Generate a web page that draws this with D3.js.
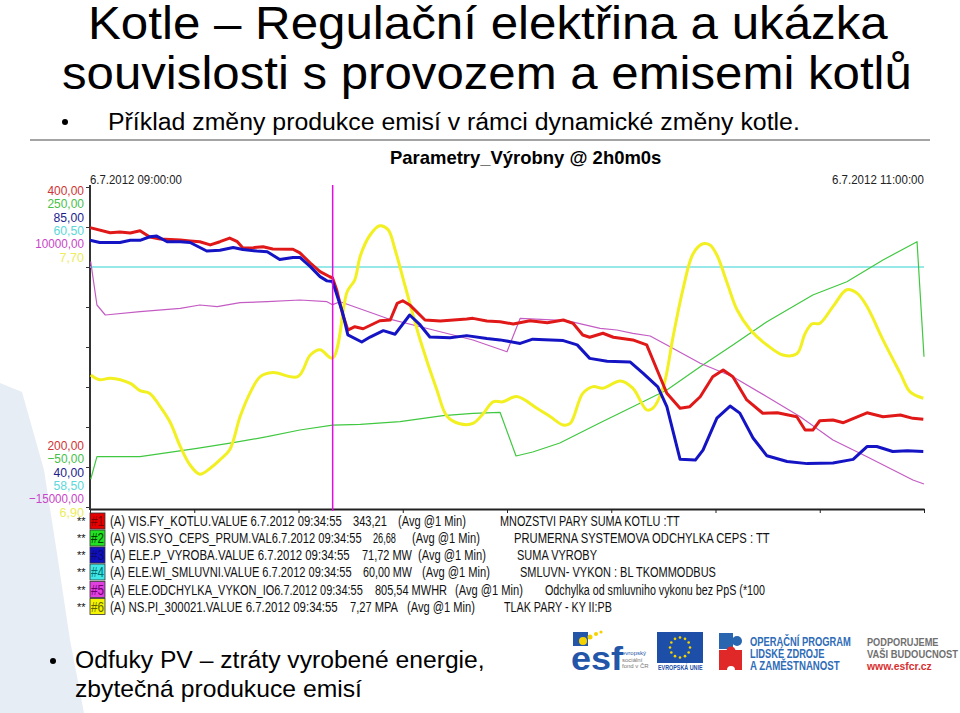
<!DOCTYPE html>
<html>
<head>
<meta charset="utf-8">
<script src="https://cdn.jsdelivr.net/npm/d3@7"></script>
<style>
body { margin: 0; background: #fff; }
svg { display: block; font-family: "Liberation Sans", Arial, sans-serif; }
</style>
</head>
<body>
<svg id="slide" width="960" height="713"></svg>
<script>
// trend from the plant historian, 6.7.2012 09:00 - 11:00
// each pen is [minutes after 09:00, value]

let redPts = [[0,374.6],[2.9,371.4],[4.3,371.9],[5.8,371.3],[7.2,372.7],[8.6,368.8],[10.1,367.5],[13.0,366.9],[14.4,366.3],[15.8,365.8],[17.3,363.8],[18.7,365.8],[20.1,368.1],[21.2,365.8],[22.0,361.9],[23.5,362.1],[24.9,362.7],[26.3,361.3],[29.2,361.1],[30.2,358.8],[31.7,352.5],[33.1,347.1],[34.5,343.9],[34.9,343.2],[35.5,335.6],[36.3,321.3],[37.1,310.6],[38.1,312.7],[39.3,311.4],[41.7,316.4],[43.2,316.9],[44.2,327.3],[45.0,328.9],[46.0,326.3],[48.2,316.9],[50.4,316.3],[54.2,317.5],[55.1,317.9],[57.1,316.3],[59.0,315.8],[60.9,314.4],[63.3,316.4],[65.8,315.2],[68.1,316.9],[69.5,314.8],[70.9,307.5],[71.9,306.1],[73.8,308.6],[75.3,306.1],[78.1,304.4],[80.1,301.3],[81.6,285.6],[83.0,271.1],[84.9,261.7],[86.3,262.7],[87.8,268.9],[89.6,281.4],[91.1,285.6],[92.5,281.4],[94.5,266.9],[96.8,258.6],[98.9,258.9],[101.7,256.4],[102.9,248.1],[104.0,248.1],[105.0,253.9],[106.9,254.4],[108.4,252.7],[111.8,258.9],[114.1,256.4],[116.6,257.5],[118.4,255.4],[119.9,254.8]];

let greenPts = [[0.1,-24.0],[1.0,-2.8],[7.2,-2.8],[15.4,5.0],[20.6,10.3],[25.5,15.9],[30.2,22.2],[34.9,26.7],[38.9,27.5],[44.6,30.0],[50.8,35.6],[55.1,37.8],[59.0,38.8],[61.3,-2.2],[63.7,1.6],[67.6,10.0],[73.4,29.0],[78.1,44.0],[83.0,59.7],[87.8,81.5],[92.5,101.9],[97.4,123.7],[104.0,148.8],[108.9,161.2],[114.1,181.6],[119.0,198.7],[120.0,90.9]];

let bluePts = [[0,77.5],[1.4,77.2],[4.3,77.2],[5.8,77.5],[7.2,77.5],[8.6,78.0],[9.6,78.1],[11.1,77.3],[13.0,77.3],[14.4,77.2],[16.8,76.0],[18.7,76.1],[20.6,76.5],[22.0,76.2],[24.0,76.0],[25.5,75.9],[27.3,74.8],[29.2,75.1],[30.2,75.1],[31.7,73.8],[33.1,72.4],[34.1,71.8],[34.9,71.7],[36.3,67.5],[37.1,64.2],[39.1,63.2],[40.3,63.9],[42.2,64.8],[43.9,64.3],[46.0,67.0],[47.5,65.6],[48.9,63.9],[51.8,63.8],[54.2,64.1],[57.1,63.7],[59.0,63.5],[61.9,63.0],[63.7,63.6],[68.1,63.4],[70.1,62.8],[71.9,60.9],[74.4,60.5],[77.7,60.4],[79.6,58.8],[81.7,56.9],[83.0,54.1],[84.9,46.7],[87.1,46.6],[88.2,48.0],[90.2,52.5],[92.1,54.2],[93.5,53.2],[95.4,49.7],[97.4,47.2],[100.3,46.4],[103.2,46.1],[106.9,46.2],[109.8,46.7],[111.8,48.5],[113.2,48.5],[115.5,47.8],[117.6,47.9],[119.9,47.8]];

let cyanPts = [[0,60.0],[120,60.0]];

let magentaPts = [[0.1,4164],[1.0,781],[2.2,0],[7.2,258],[13.0,523],[15.8,781],[18.3,648],[21.6,961],[25.5,1039],[30.2,1172],[34.1,1039],[34.9,806],[36.0,1039],[42.7,-258],[49.4,-1172],[55.1,-1953],[60.0,-2867],[61.9,-258],[68.6,-445],[73.4,-1039],[75.8,-1172],[78.1,-1430],[80.6,-1641],[83.0,-2344],[87.8,-3773],[92.5,-4820],[97.4,-6383],[102.2,-7945],[106.9,-9766],[111.8,-11070],[118.4,-12891],[120.0,-13203]];

let yellowPts = [[0.1,7.230],[1.4,7.218],[2.9,7.222],[5.8,7.209],[7.2,7.191],[8.6,7.184],[10.1,7.151],[11.5,7.113],[13.0,7.051],[14.4,7.005],[15.8,6.982],[17.3,6.997],[18.7,7.018],[20.1,7.043],[21.6,7.126],[23.0,7.184],[24.5,7.226],[26.3,7.236],[29.9,7.226],[31.7,7.280],[33.1,7.293],[34.9,7.272],[37.0,7.438],[38.1,7.468],[38.9,7.528],[40.3,7.580],[41.7,7.603],[42.9,7.593],[43.9,7.543],[45.3,7.455],[47.5,7.318],[49.9,7.193],[51.4,7.126],[53.2,7.108],[55.1,7.109],[56.6,7.134],[58.0,7.163],[59.4,7.163],[61.4,7.176],[64.3,7.147],[66.2,7.126],[68.1,7.105],[69.1,7.109],[70.9,7.184],[72.4,7.201],[73.8,7.197],[76.3,7.215],[78.1,7.197],[80.1,7.143],[81.0,7.147],[82.5,7.201],[83.9,7.326],[85.3,7.443],[86.8,7.534],[88.2,7.558],[89.2,7.555],[90.2,7.530],[91.7,7.459],[93.1,7.393],[95.0,7.343],[97.4,7.305],[99.7,7.280],[101.7,7.283],[102.9,7.334],[103.9,7.358],[105.0,7.359],[106.9,7.401],[108.9,7.443],[110.4,7.434],[111.8,7.401],[114.1,7.318],[116.6,7.234],[118.0,7.188],[119.9,7.172]];

// pen scale limits (top / bottom labels on the left)
let penMax = [400, 250, 85, 60.5, 10000, 7.7];
let penMin = [200, -50, 40, 58.5, -15000, 6.9];

// legend rows
let penTags = ["(A) VIS.FY_KOTLU.VALUE  6.7.2012 09:34:55", "(A) VIS.SYO_CEPS_PRUM.VAL6.7.2012 09:34:55", "(A) ELE.P_VYROBA.VALUE  6.7.2012 09:34:55", "(A) ELE.WI_SMLUVNI.VALUE 6.7.2012 09:34:55", "(A) ELE.ODCHYLKA_VYKON_IO6.7.2012 09:34:55", "(A) NS.PI_300021.VALUE  6.7.2012 09:34:55"];
let penValues = ["343,21", "26,68", "71,72 MW", "60,00 MW", "805,54 MWHR", "7,27 MPA"];
let penDesc = ["MNOZSTVI PARY SUMA KOTLU :TT", "PRUMERNA SYSTEMOVA ODCHYLKA  CEPS : TT", "SUMA VYROBY", "SMLUVN- VYKON : BL TKOMMODBUS", "Odchylka od smluvniho vykonu bez PpS (*100", "TLAK PARY - KY II:PB"];

let cursorMin = 34 + 55 / 60;

// colours
let lineColors = ["#e01818", "#40c840", "#1414c4", "#74e0e0", "#c45cc4", "#f2f020"];
let labelColors = ["#d03434", "#48c048", "#1e1e8c", "#5cd8d8", "#c844c8", "#ecec5c"];
let boxColors = ["#e80000", "#22e022", "#1010c0", "#40e8e8", "#e040e0", "#f4f400"];
let lineWidths = [3, 1.2, 3, 1.5, 1.2, 3];

let svg = d3.select("#slide");
let t0 = new Date(2012, 6, 6, 9, 0, 0);
let t1 = new Date(2012, 6, 6, 11, 0, 0);
let toDate = m => new Date(t0.getTime() + m * 60000);

drawSlide();
drawChart();
drawLegend();
drawLogos();

// put a text at x,y and squeeze it sideways to the given width
// anchor: "start", "middle" or "end"
function fitText(parent, x, y, str, width, size, anchor)
{
    let t = parent.append("text").attr("font-size", size).text(str);
    let w = t.node().getComputedTextLength();
    let sx = width / w;
    let x0 = x;
    if (anchor == "middle") x0 = x - width / 2;
    if (anchor == "end") x0 = x - width;
    t.attr("transform", "translate(" + x0 + "," + y + ") scale(" + sx + ",1)");
    return t;
}

function drawSlide()
{
    // pale shape at the left edge
    svg.append("path")
        .attr("d", "M0,383 L22,392 L44,470 L58,560 L70,640 L84,713 L0,713 Z")
        .attr("fill", "#e6edf4");

    fitText(svg, 88, 39, "Kotle – Regulační elektřina a ukázka", 800, 46);
    fitText(svg, 62, 89, "souvislosti s provozem a emisemi kotlů", 850, 46);

    svg.append("circle").attr("cx", 65).attr("cy", 122).attr("r", 3).attr("fill", "#000");
    fitText(svg, 108, 130, "Příklad změny produkce emisí v rámci dynamické změny kotle.", 692, 23);

    svg.append("line").attr("x1", 30).attr("x2", 930).attr("y1", 140).attr("y2", 140)
        .attr("stroke", "#a4a4a4").attr("stroke-width", 2);

    svg.append("circle").attr("cx", 53).attr("cy", 661).attr("r", 3).attr("fill", "#000");
    fitText(svg, 75, 668, "Odfuky PV – ztráty vyrobené energie,", 410, 23);
    fitText(svg, 75, 697, "zbytečná produkuce emisí", 287, 23);
}

function drawChart()
{
    let left = 90, right = 924, top = 187, bottom = 507;

    let x = d3.scaleTime([t0, t1], [left, right]);
    let grid = d3.scaleLinear([0, 8], [bottom, top]);

    fitText(svg, 519, 164, "Parametry_Výrobny  @ 2h0m0s", 258, 18, "middle").attr("font-weight", "bold");

    let fmt = d3.timeFormat("%-d.%-m.%Y  %H:%M:%S");
    fitText(svg, left, 184, fmt(t0), 92, 13).attr("fill", "#222");
    fitText(svg, right, 184, fmt(t1), 92, 13, "end").attr("fill", "#222");

    // pen limits, top stack and bottom stack
    let numFmt = v => d3.format(".2f")(v).replace(".", ",");
    for (let i = 0; i < penMax.length; i++)
    {
        let a = numFmt(penMax[i]), b = numFmt(penMin[i]);
        fitText(svg, 84, 195 + i * 13.3, a, a.length * 6.1, 13, "end").attr("fill", labelColors[i]);
        fitText(svg, 84, 450 + i * 13.3, b, b.length * 6.1, 13, "end").attr("fill", labelColors[i]);
    }

    // axes
    svg.append("g")
        .attr("transform", "translate(0," + 509 + ")")
        .call(d3.axisBottom(x).ticks(d3.timeMinute.every(15)).tickFormat("").tickSize(4).tickSizeOuter(0))
        .call(g => g.select(".domain").attr("stroke", "#222").attr("stroke-width", 2))
        .call(g => g.selectAll(".tick line").attr("stroke", "#222"));
    svg.append("g")
        .attr("transform", "translate(" + left + ",0)")
        .call(d3.axisLeft(grid).ticks(8).tickFormat("").tickSize(4).tickSizeOuter(0))
        .call(g => g.select(".domain").attr("d", "M0,185V510").attr("stroke", "#333").attr("stroke-width", 2))
        .call(g => g.selectAll(".tick line").attr("stroke", "#333"));

    // pens, drawn bottom first so red and blue sit on top
    let pens = [cyanPts, greenPts, magentaPts, yellowPts, redPts, bluePts];
    let penIdx = [3, 1, 4, 5, 0, 2];
    for (let k = 0; k < pens.length; k++)
    {
        let i = penIdx[k];
        let y = d3.scaleLinear([penMin[i], penMax[i]], [bottom, top]);
        let line = d3.line()
            .x(d => x(toDate(d[0])))
            .y(d => y(d[1]))
            .curve(i == 5 ? d3.curveCatmullRom : d3.curveLinear);
        svg.append("path")
            .datum(pens[k])
            .attr("d", line)
            .attr("fill", "none")
            .attr("stroke", lineColors[i])
            .attr("stroke-width", lineWidths[i])
            .attr("stroke-linejoin", "round");
    }

    // cursor
    svg.append("line")
        .attr("x1", x(toDate(cursorMin))).attr("x2", x(toDate(cursorMin)))
        .attr("y1", 185).attr("y2", 511)
        .attr("stroke", "#e010e0").attr("stroke-width", 1.5);
}

function drawLegend()
{
    let rowY = [526, 543, 560, 577, 594.5, 611.5];
    let tagW = [232, 252, 240, 242, 253, 228];
    let valX = [353, 373, 362, 363, 375, 350];
    let valW = [34, 23, 50, 49, 72, 48];
    let avgX = [398, 412, 418, 422, 455, 407];
    let descX = [500, 514, 517, 520, 545, 504];
    let descW = [180, 256, 80, 196, 220, 108];
    let boxText = ["#800000", "#004000", "#0a0a70", "#007070", "#700070", "#606000"];

    for (let i = 0; i < penTags.length; i++)
    {
        let g = svg.append("g").attr("fill", "#111");
        g.append("text").attr("x", 77).attr("y", rowY[i] - 1).attr("font-size", 11).text("**");
        g.append("rect").attr("x", 90).attr("y", rowY[i] - 13).attr("width", 15).attr("height", 16)
            .attr("fill", boxColors[i]).attr("stroke", "#333").attr("stroke-width", 0.8);
        fitText(g, 91, rowY[i], "#" + (i + 1), 13, 14).attr("fill", boxText[i]);
        fitText(g, 110, rowY[i], penTags[i], tagW[i], 14);
        fitText(g, valX[i], rowY[i], penValues[i], valW[i], 14);
        fitText(g, avgX[i], rowY[i], "(Avg @1 Min)", 68, 14);
        fitText(g, descX[i], rowY[i], penDesc[i], descW[i], 14);
    }
}

function drawLogos()
{
    let g = svg.append("g");

    // esf
    g.append("rect").attr("x", 573).attr("y", 632).attr("width", 15).attr("height", 14).attr("fill", "#2356a8");
    fitText(g, 571, 670, "esf", 48, 34).attr("font-weight", "bold").attr("fill", "#2356a8");
    [[583, 641, 4], [590, 637, 2.5], [596, 634, 2], [601, 632, 1.6]].forEach(s =>
        g.append("circle").attr("cx", s[0]).attr("cy", s[1]).attr("r", s[2]).attr("fill", "#f4d200"));
    ["evropský", "sociální", "fond v ČR"].forEach((t, i) =>
        g.append("text").attr("x", 622).attr("y", 655 + i * 6.5).attr("font-size", 6)
            .attr("fill", i == 0 ? "#2356a8" : "#777").text(t));

    // eu flag
    g.append("rect").attr("x", 657).attr("y", 632).attr("width", 46).attr("height", 31).attr("fill", "#1d4fa8");
    for (let k = 0; k < 12; k++)
    {
        let a = k * Math.PI / 6;
        g.append("circle").attr("cx", 680 + 10 * Math.cos(a)).attr("cy", 647.5 + 10 * Math.sin(a))
            .attr("r", 1.3).attr("fill", "#f4d200");
    }
    fitText(g, 680, 670, "EVROPSKÁ UNIE", 44, 7, "middle").attr("font-weight", "bold").attr("fill", "#1d4fa8");

    // puzzle
    g.append("rect").attr("x", 719).attr("y", 633).attr("width", 14).attr("height", 16).attr("fill", "#2a66b0");
    g.append("circle").attr("cx", 737).attr("cy", 641).attr("r", 5).attr("fill", "#2a66b0");
    g.append("path").attr("d", "M719,650 H742 V670 H735 A4,4 0 0 0 727,670 H719 Z").attr("fill", "#e02828");
    g.append("circle").attr("cx", 731).attr("cy", 651).attr("r", 4.5).attr("fill", "#e02828");

    let opW = [100, 73, 88];
    ["OPERAČNÍ PROGRAM", "LIDSKÉ ZDROJE", "A ZAMĚSTNANOST"].forEach((t, i) =>
        fitText(g, 750, 646 + i * 12, t, opW[i], 12).attr("font-weight", "bold").attr("fill", "#2e6cb8"));
    let esW = [71, 90, 60];
    ["PODPORUJEME", "VAŠI BUDOUCNOST", "www.esfcr.cz"].forEach((t, i) =>
        fitText(g, 867, 646 + i * 12, t, esW[i], 11).attr("font-weight", "bold")
            .attr("fill", i == 2 ? "#d83030" : "#707070"));
}
</script>
</body>
</html>
